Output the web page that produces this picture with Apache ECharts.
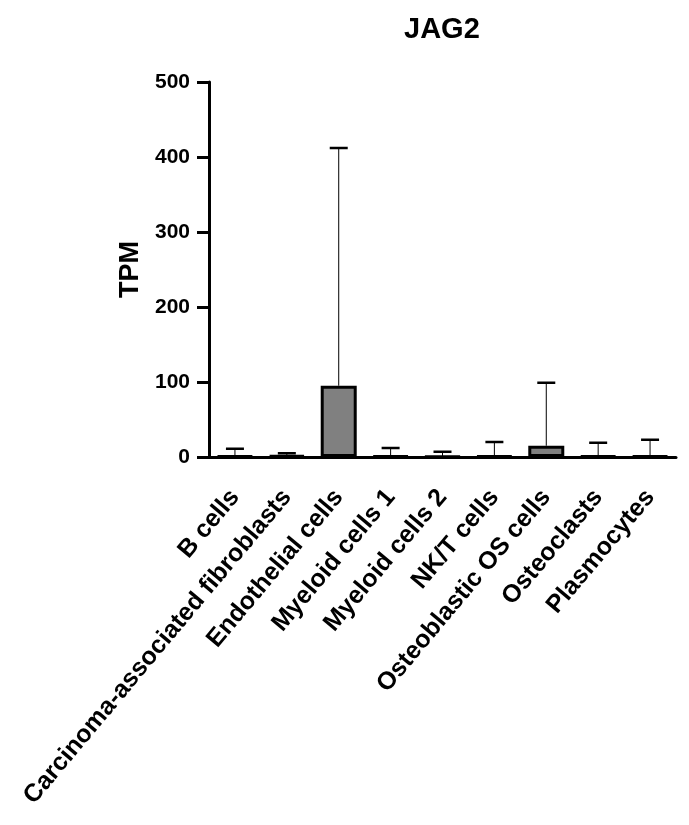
<!DOCTYPE html>
<html>
<head>
<meta charset="utf-8">
<script src="https://cdn.jsdelivr.net/npm/echarts@6/dist/echarts.min.js"></script>
<style>html,body{margin:0;padding:0;background:#fff}#c{width:689px;height:825px}</style>
</head>
<body>
<div id="c"></div>
<script>
const categories = ['B cells','Carcinoma-associated fibroblasts','Endothelial cells','Myeloid cells 1','Myeloid cells 2','NK/T cells','Osteoblastic OS cells','Osteoclasts','Plasmocytes'];
const meanTPM = [1.5, 2, 95, 1.5, 1, 1.5, 15, 1.5, 1.5];
const upperTPM = [11, 5, 412, 12, 7, 20, 99, 19, 23];
const yTicks = [0, 100, 200, 300, 400, 500];

const FONT = "'Liberation Sans', Arial, Helvetica, sans-serif";
const chart = echarts.init(document.getElementById('c'));
chart.setOption({
  animation: false,
  backgroundColor: '#fff',
  title: {
    text: 'JAG2', left: 399, top: 10,
    textStyle: {fontFamily: FONT, fontWeight: 'bold', fontSize: 29, color: '#000'}
  },
  grid: {left: 209, right: 13, top: 82, bottom: 368, containLabel: false},
  xAxis: {
    type: 'category', data: categories,
    axisLine: {lineStyle: {color: '#000', width: 3}},
    axisTick: {alignWithLabel: true, length: 12, lineStyle: {color: '#000', width: 2}},
    axisLabel: {rotate: 50, margin: 36, interval: 0, color: '#000', fontFamily: FONT, fontWeight: 'bold', fontSize: 25}
  },
  yAxis: {
    type: 'value', min: yTicks[0], max: yTicks[yTicks.length - 1], interval: 100,
    name: 'TPM', nameLocation: 'middle', nameRotate: 90, nameGap: 64,
    nameTextStyle: {fontFamily: FONT, fontWeight: 'bold', fontSize: 27, color: '#000'},
    axisLine: {show: true, lineStyle: {color: '#000', width: 3}},
    axisTick: {show: true, length: 12, lineStyle: {color: '#000', width: 3}},
    axisLabel: {margin: 19, color: '#000', fontFamily: FONT, fontWeight: 'bold', fontSize: 21},
    splitLine: {show: false}
  },
  series: [
    {
      type: 'bar', data: meanTPM, barWidth: 36, z: 2,
      itemStyle: {color: '#808080', borderColor: '#000', borderWidth: 3}
    },
    {
      type: 'custom', z: 1,
      data: meanTPM.map((m, i) => [i, m, upperTPM[i]]),
      renderItem: function (params, api) {
        const base = api.coord([api.value(0), api.value(1)]);
        const top = api.coord([api.value(0), api.value(2)]);
        const hw = 9;
        return {
          type: 'group',
          children: [
            {type: 'line', shape: {x1: base[0], y1: base[1], x2: top[0], y2: top[1]}, style: {stroke: '#000', lineWidth: 1}},
            {type: 'line', shape: {x1: top[0] - hw, y1: top[1], x2: top[0] + hw, y2: top[1]}, style: {stroke: '#000', lineWidth: 2.5}}
          ]
        };
      }
    }
  ]
});
</script>
</body>
</html>
